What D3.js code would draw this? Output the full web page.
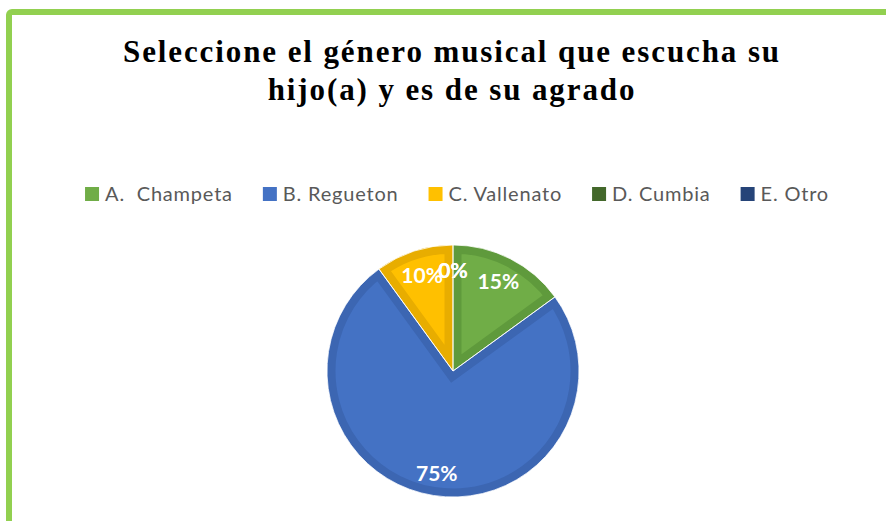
<!DOCTYPE html>
<html>
<head>
<meta charset="utf-8">
<script src="https://d3js.org/d3.v7.min.js"></script>
<style>
  body { margin: 0; background: #fff; }
  .title { font: bold 31px "Liberation Serif", "Times New Roman", serif; fill: #000; letter-spacing: 1.9px; }
  .legend text { font: 20px Lato, "Open Sans", sans-serif; fill: #595959; letter-spacing: 0.8px; white-space: pre; }
  .lbl { font: bold 21px Lato, "Open Sans", sans-serif; fill: #fff; }
</style>
</head>
<body>
<svg id="chart" width="886" height="521"></svg>
<script>
  // data
  var categories = ["A.  Champeta", "B. Regueton", "C. Vallenato", "D. Cumbia", "E. Otro"]
  var values = [15, 75, 10, 0, 0]
  var pctLabels = ["15%", "75%", "10%", "0%", "0%"]
  var fills = ["#70AD47", "#4472C4", "#FFC000", "#43682B", "#264478"]
  var edges = ["#5F9A3C", "#3C66B2", "#E8AD00", "#3A5B25", "#213C6A"]
  var titleLines = ["Seleccione el género musical que escucha su", "hijo(a) y es de su agrado"]

  var W = 886, H = 521
  var svg = d3.select('#chart')

  // green frame (only top and left are visible in the crop)
  svg.append('rect')
    .attr('x', 9).attr('y', 12)
    .attr('width', W + 20).attr('height', H + 20)
    .attr('rx', 3)
    .attr('fill', 'none')
    .attr('stroke', '#92D050')
    .attr('stroke-width', 6)

  // title
  svg.append('text')
    .attr('class', 'title')
    .attr('text-anchor', 'middle')
    .selectAll('tspan')
    .data(titleLines)
    .enter().append('tspan')
    .attr('x', 452)
    .attr('y', function(d, i) { return 62 + i * 38 })
    .text(function(d) { return d })

  // legend: measure items, then center the row
  var legend = svg.append('g').attr('class', 'legend')
  var items = legend.selectAll('g')
    .data(categories)
    .enter().append('g')
  items.append('rect')
    .attr('width', 14).attr('height', 14)
    .attr('y', -14)
    .attr('fill', function(d, i) { return fills[i] })
  items.append('text')
    .attr('x', 20)
    .attr('y', 0)
    .attr('xml:space', 'preserve')
    .text(function(d) { return d })

  var xpos = 0, starts = []
  items.each(function(d, i) {
    starts.push(xpos)
    var w = d3.select(this).select('text').node().getComputedTextLength()
    xpos += 20 + w + 30
  })
  var total = xpos - 30
  var legendLeft = 457 - total / 2
  items.attr('transform', function(d, i) { return 'translate(' + (legendLeft + starts[i]) + ',201)' })

  // pie
  var cx = 453, cy = 371, r = 126
  var pie = d3.pie().sort(null).value(function(d) { return d })
  var arcs = pie(values)
  var arc = d3.arc().innerRadius(0).outerRadius(r)
  var labelArc = d3.arc().innerRadius(100).outerRadius(100)

  var g = svg.append('g').attr('transform', 'translate(' + cx + ',' + cy + ')')
  var defs = svg.append('defs')
  arcs.forEach(function(a, i) {
    defs.append('clipPath').attr('id', 'clip' + i)
      .append('path').attr('d', arc(a))
  })

  g.selectAll('path.slice')
    .data(arcs.filter(function(a) { return a.value > 0 }))
    .enter().append('path')
    .attr('class', 'slice')
    .attr('d', arc)
    .attr('fill', function(d) { return fills[d.index] })
    .attr('stroke', function(d) { return edges[d.index] })
    .attr('stroke-width', 17)
    .attr('stroke-linejoin', 'miter')
    .attr('clip-path', function(d) { return 'url(#clip' + d.index + ')' })

  // thin white separators between slices
  g.selectAll('path.sep')
    .data(arcs.filter(function(a) { return a.value > 0 }))
    .enter().append('path')
    .attr('class', 'sep')
    .attr('d', arc)
    .attr('fill', 'none')
    .attr('stroke', '#fff')
    .attr('stroke-width', 0.8)

  // labels: the two 0% labels sit on top of each other, as in the original
  g.selectAll('text.lbl')
    .data(arcs)
    .enter().append('text')
    .attr('class', 'lbl')
    .attr('text-anchor', 'middle')
    .attr('dy', '0.35em')
    .attr('transform', function(d) {
      var c = labelArc.centroid(d)
      if (d.index === 1) c = [c[0] * 1.04, c[1] * 1.04]
      return 'translate(' + c + ')'
    })
    .text(function(d, i) { return pctLabels[i] })
</script>
</body>
</html>
